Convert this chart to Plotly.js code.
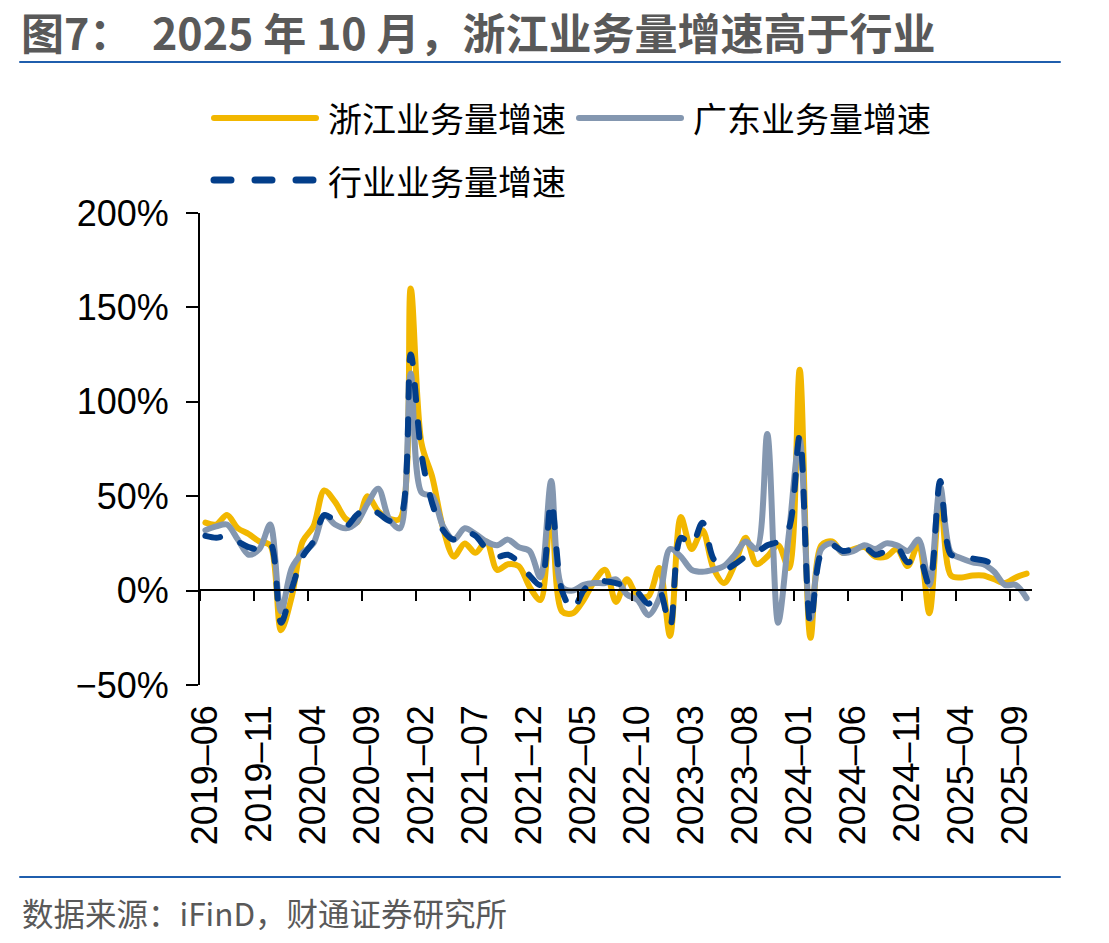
<!DOCTYPE html>
<html>
<head>
<meta charset="utf-8">
<script src="https://cdn.plot.ly/plotly-3.0.1.min.js"></script>
<style>
html,body{margin:0;padding:0;background:#fff;}
#chart{width:1109px;height:943px;}
.scatterlayer .js-line{stroke-linecap:round;stroke-linejoin:round;}
.shapelayer path{stroke-linecap:round;}
</style>
</head>
<body>
<div id="chart"></div>
<script>
// Monthly categories, 2019-06 .. 2025-10
const months = [
  '2019-06','2019-07','2019-08','2019-09','2019-10','2019-11','2019-12',
  '2020-01','2020-02','2020-03','2020-04','2020-05','2020-06','2020-07','2020-08','2020-09','2020-10','2020-11','2020-12',
  '2021-01','2021-02','2021-03','2021-04','2021-05','2021-06','2021-07','2021-08','2021-09','2021-10','2021-11','2021-12',
  '2022-01','2022-02','2022-03','2022-04','2022-05','2022-06','2022-07','2022-08','2022-09','2022-10','2022-11','2022-12',
  '2023-01','2023-02','2023-03','2023-04','2023-05','2023-06','2023-07','2023-08','2023-09','2023-10','2023-11','2023-12',
  '2024-01','2024-02','2024-03','2024-04','2024-05','2024-06','2024-07','2024-08','2024-09','2024-10','2024-11','2024-12',
  '2025-01','2025-02','2025-03','2025-04','2025-05','2025-06','2025-07','2025-08','2025-09','2025-10'
];

// Year-on-year growth of express volume, %
const zhejiang = [
  36, 35, 40, 33, 30, 26, 24,
  -21, -3, 26, 34, 53, 47, 38, 36, 50, 42, 38, 38,
  160, 78, 60, 33, 18, 25, 20, 26, 11, 14, 13, 2,
  -5, 45, -11, -12, -5, 5, 11, -6, 6, -3, -3, 12,
  -24, 39, 22, 32, 12, 4, 14, 28, 14, 18, 24, 12,
  117, -25, 24, 26, 20, 22, 23, 18, 18, 22, 13, 25,
  -12, 50, 8, 7, 8, 8, 6, 4, 7, 9
];
const guangdong = [
  32, 34, 35, 27, 19, 22, 35,
  -11, 12, 20, 25, 40, 35, 33, 36, 46, 54, 38, 33,
  115, 52, 50, 34, 27, 33, 30, 26, 24, 27, 23, 21,
  7, 58, 2, 0, 3, 4, 4, 6, -2, -5, -13, -4,
  22, 18, 11, 10, 11, 13, 19, 26, 22, 83, -17, 30,
  80, -15, 22, 25, 20, 21, 24, 22, 25, 24, 21, 27,
  3, 55, 20, 17, 15, 14, 10, 3, 3, -4
];
const industry = [
  29, 28, 29, 26, 23, 22, 25,
  -17, 1, 18, 26, 40, 37, 34, 40, 44, 41, 37, 38,
  125, 72, 46, 32, 27, 31, 29, 22, 18, 19, 15, 8,
  3, 47, 0, -10, 0, 5, 5, 4, 2, -1, -7, 0,
  -19, 28, 24, 36, 17, 11, 14, 18, 20, 24, 26, 33,
  82, -18, 20, 24, 21, 22, 23, 19, 21, 23, 15, 18,
  3, 58, 19, 19, 17, 16, 14, 11
];

const chartTitle = '图7：  2025 年 10 月，浙江业务量增速高于行业';
const sourceNote = '数据来源：iFinD，财通证券研究所';
const seriesNames = ['浙江业务量增速', '广东业务量增速', '行业业务量增速'];
const tickMonths = ['2019-06','2019-11','2020-04','2020-09','2021-02','2021-07','2021-12','2022-05',
                    '2022-10','2023-03','2023-08','2024-01','2024-06','2024-11','2025-04','2025-09'];
const tickLabels = ['2019–06','2019–11','2020–04','2020–09','2021–02','2021–07','2021–12','2022–05',
                    '2022–10','2023–03','2023–08','2024–01','2024–06','2024–11','2025–04','2025–09'];
const yTicks = [-50, 0, 50, 100, 150, 200];
const yTickLabels = ['−50%', '0%', '50%', '100%', '150%', '200%'];

const gold = '#F2B700', slate = '#8497B0', navy = '#033E8A';
const cjk = '"Noto Sans CJK SC", "Noto Sans", sans-serif';
const latin = '"Liberation Sans", Arial, sans-serif';

// plot frame in page pixels
const W = 1109, H = 943;
const L = 200, R = 1032, T = 213, B = 685;
const px = x => (x - L) / (R - L);
const py = y => (B - y) / (B - T);

const traces = [
  {x: months, y: zhejiang, name: seriesNames[0], type: 'scatter', mode: 'lines',
   xaxis: 'x', yaxis: 'y',
   line: {color: gold, width: 6, shape: 'spline', smoothing: 0.9}, hoverinfo: 'skip'},
  {x: months, y: guangdong, name: seriesNames[1], type: 'scatter', mode: 'lines',
   xaxis: 'x', yaxis: 'y',
   line: {color: slate, width: 6, shape: 'spline', smoothing: 0.9}, hoverinfo: 'skip'},
  // the industry series sits on the zero-line axis, drawn above the other two
  {x: months.slice(0, industry.length), y: industry, name: seriesNames[2], type: 'scatter', mode: 'lines',
   xaxis: 'x2', yaxis: 'y',
   line: {color: navy, width: 6, shape: 'spline', smoothing: 0.9, dash: '15px,22px'}, hoverinfo: 'skip'}
];

// tick marks along the zero line, on category boundaries every 5 months
const boundaryTicks = [];
for (let i = 0; i < months.length - 1; i += 5) boundaryTicks.push(i - 0.5);

const ruleColor = '#1F5EAD';
const legendRows = [py(118), py(180)];
const xRange = [-0.5, months.length - 0.5];

const layout = {
  width: W, height: H,
  margin: {l: L, r: W - R, t: T, b: H - B, pad: 0},
  paper_bgcolor: '#fff', plot_bgcolor: '#fff',
  showlegend: false,
  xaxis: {
    type: 'category', range: xRange,
    tickmode: 'array', tickvals: tickMonths, ticktext: tickLabels,
    tickangle: -90, ticks: '', showline: false, showgrid: false, zeroline: false,
    ticklabelstandoff: 12,
    tickfont: {family: latin, size: 36, color: '#000'}, fixedrange: true
  },
  xaxis2: {
    type: 'category', overlaying: 'x', anchor: 'free', position: py(590),
    range: xRange,
    tickmode: 'array', tickvals: boundaryTicks, showticklabels: false,
    ticks: 'outside', ticklen: 10, tickwidth: 2, tickcolor: '#000',
    showline: true, linecolor: '#000', linewidth: 2,
    showgrid: false, zeroline: false, fixedrange: true
  },
  yaxis: {
    range: [-50, 200], tickmode: 'array', tickvals: yTicks, ticktext: yTickLabels,
    ticks: 'outside', ticklen: 12, tickwidth: 2, tickcolor: '#000',
    showline: true, linecolor: '#000', linewidth: 2,
    showgrid: false, zeroline: false, ticklabelstandoff: 10,
    tickfont: {family: latin, size: 36, color: '#000'}, fixedrange: true
  },
  shapes: [
    {type: 'line', xref: 'paper', yref: 'paper', x0: px(20), x1: px(1060), y0: py(62), y1: py(62),
     line: {color: ruleColor, width: 2}},
    {type: 'line', xref: 'paper', yref: 'paper', x0: px(20), x1: px(1060), y0: py(877), y1: py(877),
     line: {color: ruleColor, width: 2}},
    {type: 'line', xref: 'paper', yref: 'paper', x0: px(214), x1: px(316), y0: legendRows[0], y1: legendRows[0],
     line: {color: gold, width: 6}},
    {type: 'line', xref: 'paper', yref: 'paper', x0: px(579), x1: px(681), y0: legendRows[0], y1: legendRows[0],
     line: {color: slate, width: 6}},
    {type: 'line', xref: 'paper', yref: 'paper', x0: px(214), x1: px(320), y0: legendRows[1], y1: legendRows[1],
     line: {color: navy, width: 7, dash: '17px,24px'}}
  ],
  annotations: [
    {xref: 'paper', yref: 'paper', x: px(19), y: py(31), xanchor: 'left', yanchor: 'middle',
     text: '<b>' + chartTitle + '</b>', showarrow: false,
     font: {family: cjk, size: 43, color: '#595959'}},
    {xref: 'paper', yref: 'paper', x: px(326), y: legendRows[0], xanchor: 'left', yanchor: 'middle',
     text: seriesNames[0], showarrow: false, font: {family: cjk, size: 34, color: '#000'}},
    {xref: 'paper', yref: 'paper', x: px(691), y: legendRows[0], xanchor: 'left', yanchor: 'middle',
     text: seriesNames[1], showarrow: false, font: {family: cjk, size: 34, color: '#000'}},
    {xref: 'paper', yref: 'paper', x: px(326), y: legendRows[1], xanchor: 'left', yanchor: 'middle',
     text: seriesNames[2], showarrow: false, font: {family: cjk, size: 34, color: '#000'}},
    {xref: 'paper', yref: 'paper', x: px(20), y: py(912), xanchor: 'left', yanchor: 'middle',
     text: sourceNote, showarrow: false,
     font: {family: cjk, size: 31.5, color: '#595959'}}
  ]
};

Plotly.newPlot('chart', traces, layout, {staticPlot: true, displayModeBar: false});
</script>
</body>
</html>
